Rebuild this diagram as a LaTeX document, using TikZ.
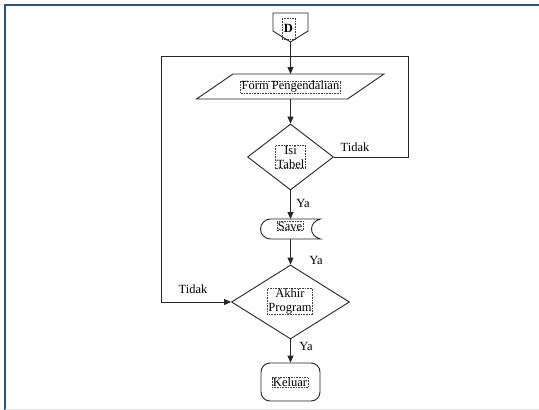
\documentclass[tikz,border=0pt]{standalone}
\usepackage{fontspec}
\setmainfont{Liberation Serif}
\usetikzlibrary{shapes.geometric,arrows.meta}
\definecolor{frameblue}{RGB}{44,82,134}
\begin{document}
\begin{tikzpicture}[x=1pt,y=-1pt,
  line/.style={draw=black!85,line width=0.9pt},
  flow/.style={line,-{Triangle[length=7pt,width=6pt]}},
  txtbox/.style={draw=black!75,densely dotted,line width=0.6pt,inner xsep=1pt,inner ysep=0.5pt,
                 font=\fontsize{12.5}{14}\selectfont,align=center},
  lbl/.style={font=\fontsize{12.5}{14}\selectfont,inner sep=0pt},
  decision/.style={diamond,line,inner sep=0pt},
  anchorbox/.style={inner sep=0pt,outer sep=0pt},
]
\useasboundingbox (0,0) rectangle (539,410);
\fill[white] (0,0) rectangle (539,410);
% window frame
\draw[frameblue,line width=2pt] (5,410) -- (5,4.5) -- (539,4.5);
\draw[black!12,line width=1pt] (5,409) -- (539,409);

% off-page connector D
\draw[line] (273,13) -- (308,13) -- (308,31) -- (290.5,42) -- (273,31) -- cycle;
\coordinate (Dtip) at (290.5,42);
\node[txtbox,minimum width=13,minimum height=21] (Dlbl) at (288.5,28.5) {\textbf{D}};

% input: Form Pengendalian (parallelogram)
\node[anchorbox,minimum width=151,minimum height=25] (form) at (290.5,86.5) {};
\draw[line] (233,74) -- (384,74) -- (347.5,99) -- (196.5,99) -- cycle;
\coordinate (formin) at (290.5,74);
\coordinate (formout) at (290.5,99);
\node[txtbox] (formlbl) at (290.5,87) {Form Pengendalian};

% decision: Isi Tabel
\node[decision,minimum width=86,minimum height=66] (isi) at (290.5,157) {};
\node[txtbox] (isilbl) at (290.5,157) {Isi\\Tabel};

% stored data: Save
\node[anchorbox,minimum width=60,minimum height=20] (save) at (290.5,229) {};
\draw[line] (270.5,219) -- (320.5,219)
  .. controls (308.5,222) and (308.5,236) .. (320.5,239)
  -- (270.5,239)
  .. controls (265,239) and (260.5,234.5) .. (260.5,229)
  .. controls (260.5,223.5) and (265,219) .. (270.5,219);
\node[txtbox] (savelbl) at (290,226) {Save};

% decision: Akhir Program
\node[decision,minimum width=118,minimum height=74] (akhir) at (290.5,302) {};
\node[txtbox] (akhirlbl) at (290,301.5) {Akhir\\Program};

% terminator: Keluar
\node[line,rounded corners=9,minimum width=59,minimum height=38] (keluar) at (290.5,382) {};
\node[txtbox] (keluarlbl) at (290,382.5) {Keluar};

% loop-back corners
\coordinate (loopR) at (408,56);
\coordinate (loopL) at (161,56);

% connectors
\draw[flow] (Dtip) -- (formin);
\draw[flow] (formout) -- (isi.north);
\draw[flow] (isi.south) -- (save.north);
\draw[flow] (save.south) -- (akhir.north);
\draw[flow] (akhir.south) -- (keluar.north);
\draw[flow] (isi.east) -| (loopR) -- (loopL) |- (akhir.west);

% branch labels
\node[lbl] (t1) at (355,147) {Tidak};
\node[lbl] (y1) at (303,203) {Ya};
\node[lbl] (y2) at (316,260) {Ya};
\node[lbl] (t2) at (193,289) {Tidak};
\node[lbl] (y3) at (306,346) {Ya};
\end{tikzpicture}
\end{document}
